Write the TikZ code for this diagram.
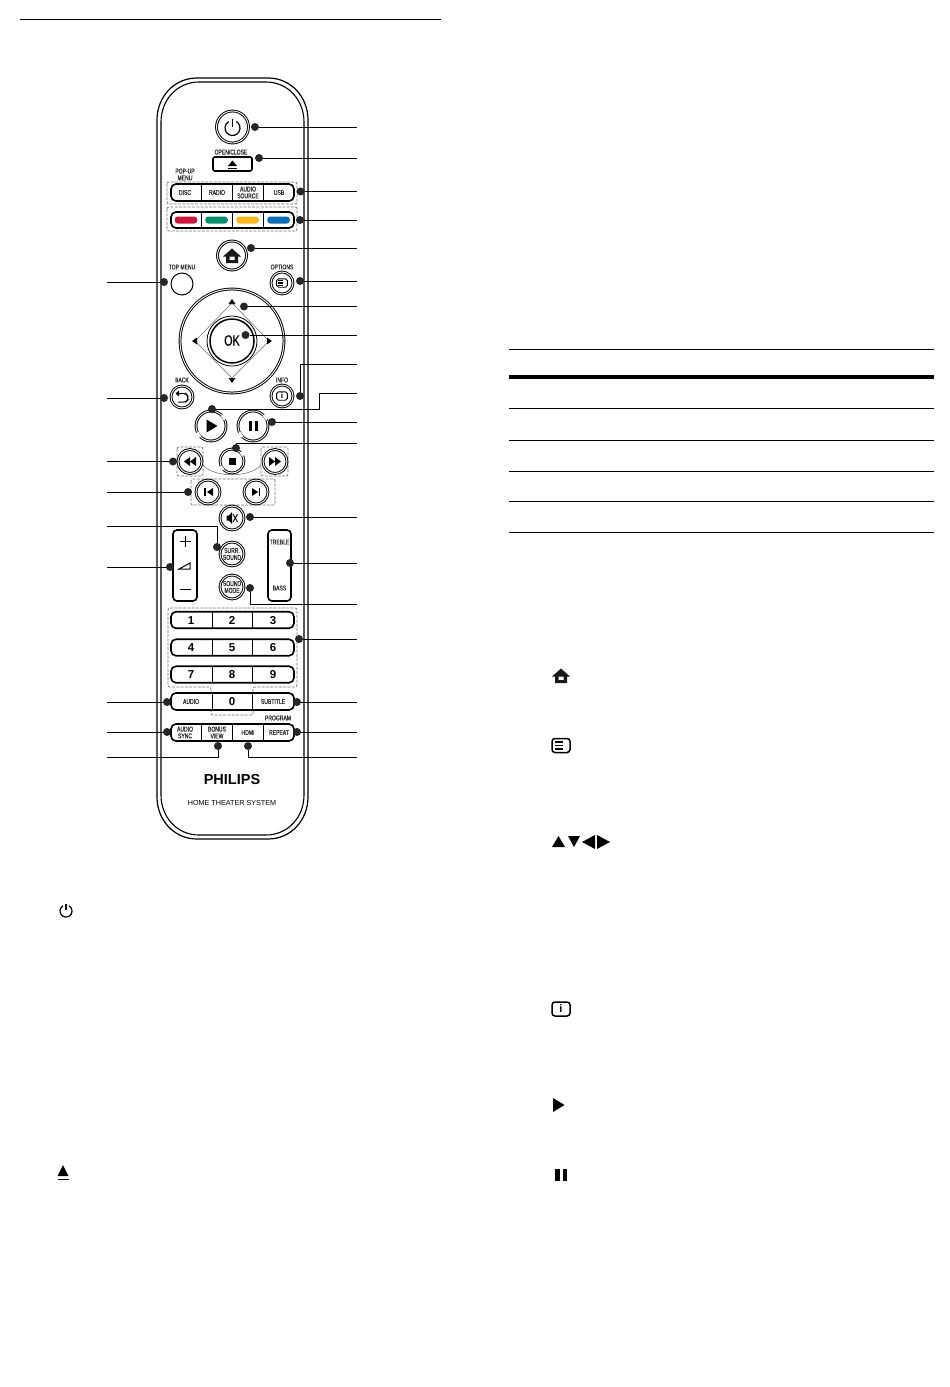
\documentclass[tikz,border=0pt]{standalone}
\usepackage{fontspec}
\setmainfont{Liberation Sans}
\newfontfamily\keyfont[FakeStretch=0.72, FakeBold=0.25]{Liberation Sans}
\definecolor{keyred}{HTML}{D2143C}
\definecolor{keygreen}{HTML}{00936E}
\definecolor{keyyellow}{HTML}{FDB813}
\definecolor{keyblue}{HTML}{0A6EBD}
\def\leftx{107}
\def\rightx{357}
\tikzset{
  dot/.style={circle, fill=black!85, inner sep=0, minimum size=8pt},
  lead/.style={black, line width=0.9pt},
  ringbtn/.style={circle, draw=black, fill=white, inner sep=0, line width=0.95pt, double=white, double distance=0.9pt},
  flatbtn/.style={circle, draw=black, fill=white, inner sep=0, line width=1pt},
  barbtn/.style={rectangle, draw=black, fill=white, inner sep=0, line width=1.6pt, rounded corners=5pt},
  group/.style={draw=black!55, line width=0.7pt, dashed, dash pattern=on 3pt off 1.3pt, rounded corners=2pt},
  keytxt/.style={inner sep=0, align=center, font=\keyfont\fontsize{7}{6.8}\selectfont, text=black!85},
  digit/.style={inner sep=0, text height=8pt, text depth=0pt, font=\bfseries\fontsize{11.5}{11.5}\selectfont},
  rule/.style={black, line width=0.6pt}
}
\newcommand{\drawhome}[2]{
  \fill[black!90, even odd rule, shift={(#1,#2)}] (-9,0.5) -- (0,-7.5) -- (9,0.5) -- (6,0.5) -- (6,7) -- (-6,7) -- (-6,0.5) -- cycle (-2.5,0.5) rectangle (2.5,4);
}
\newcommand{\drawmenu}[3]{
  \begin{scope}[shift={(#1,#2)}, scale=#3]
    \draw[line width=#3*1.5pt, rounded corners=#3*3pt] (-9,-7) rectangle (9,7);
    \foreach \ly in {-3.5,0,3.5} {
      \draw[line width=#3*1.7pt] (-6,\ly) -- (1.5,\ly);
    }
  \end{scope}
}
\newcommand{\drawinfo}[3]{
  \draw[line width=#3*1.5pt, rounded corners=#3*3pt, shift={(#1,#2)}, scale=#3] (-9,-7) rectangle (9,7);
}
\newcommand{\drawpower}[3]{
  \draw[line width=1.2pt, shift={(#1,#2)}, scale=#3] (0.5,-0.866) arc (-60:240:1);
  \draw[line width=1.2pt, shift={(#1,#2)}, scale=#3] (0,-1.25) -- (0,-0.2);
}
\newcommand{\ringgap}[3]{
  \draw[white, line width=3pt, shift={(#1,#2)}] (-45:#3) arc (-45:-25:#3);
  \draw[white, line width=3pt, shift={(#1,#2)}] (135:#3) arc (135:155:#3);
}
\begin{document}
\begin{tikzpicture}[x=1pt, y=-1pt]
  \useasboundingbox (0,0) rectangle (950,1387);
  \draw[black, line width=1pt] (20,19) -- (441,19);

  \draw[black, line width=1.2pt] (157,120) .. controls (157,97) and (174,78) .. (197,78) -- (268,78) .. controls (291,78) and (308,97) .. (308,120) -- (308,797) .. controls (308,820) and (291,839) .. (268,839) -- (197,839) .. controls (174,839) and (157,820) .. (157,797) -- cycle;
  \draw[black, line width=1.1pt] (161,122) .. controls (161,100) and (177,82) .. (199,82) -- (266,82) .. controls (288,82) and (304,100) .. (304,122) -- (304,795) .. controls (304,817) and (288,835) .. (266,835) -- (199,835) .. controls (177,835) and (161,817) .. (161,795) -- cycle;

  \node[ringbtn, minimum size=32pt] (power) at (232.5,127) {};
  \drawpower{232.5}{128}{7.5}
  \node[keytxt] (openlbl) at (231,152) {OPEN/CLOSE};
  \node[barbtn, minimum width=39pt, minimum height=14pt, rounded corners=2pt] (eject) at (232.5,164) {};
  \fill (228,166) -- (232.5,160.5) -- (237,166) -- cycle;
  \draw[line width=0.9pt] (228,168) -- (237,168);

  \node[keytxt] (popuplbl) at (185,174.5) {POP-UP\\MENU};
  \draw[group] (167,182) rectangle (297,204);
  \node[barbtn, minimum width=123pt, minimum height=17pt] (menurow) at (232.5,192.5) {};
  \draw[group] (167,207) rectangle (297,231);
  \node[barbtn, minimum width=123pt, minimum height=16pt] (colourrow) at (232.5,220) {};
  \foreach \dx in {201,232,263} {
    \draw[line width=0.8pt] (\dx,185) -- (\dx,200);
    \draw[line width=0.8pt] (\dx,213) -- (\dx,227);
  }
  \foreach \name/\px/\txt in {disc/185/DISC, radio/217/RADIO, source/248/AUDIO\\SOURCE, usb/279/USB} {
    \node[keytxt] (\name) at (\px,192.5) {\txt};
  }
  \foreach \name/\px/\col in {red/186/keyred, green/216.5/keygreen, yellow/247.5/keyyellow, blue/278.5/keyblue} {
    \node[fill=\col, rounded corners=3pt, inner sep=0, minimum width=22.5pt, minimum height=7pt] (\name) at (\px,220) {};
  }

  \node[ringbtn, minimum size=29pt] (home) at (232,255.5) {};
  \drawhome{232}{256}
  \node[keytxt] (optlbl) at (282,267) {OPTIONS};
  \node[ringbtn, minimum size=22pt] (options) at (282,283) {};
  \drawmenu{282}{283}{0.6}
  \node[keytxt] (toplbl) at (182,267) {TOP MENU};
  \node[flatbtn, minimum size=22pt] (topmenu) at (182,284) {};

  \node[ringbtn, minimum size=104pt] (navring) at (232,341) {};
  \draw[black!60, line width=0.5pt] (232,303) -- (269,341) -- (232,378) -- (195,341) -- cycle;
  \node[circle, draw=black, fill=white, inner sep=0, line width=0.8pt, minimum size=50pt] (ok) at (232,341) {};
  \node[circle, draw=black, fill=white, inner sep=0, line width=1.5pt, minimum size=44pt] (okinner) at (232,341) {};
  \node[inner sep=0, font=\keyfont\fontsize{15}{15}\selectfont] (oklbl) at (232,340.5) {OK};
  \fill (228.5,304) -- (232,299) -- (235.5,304) -- cycle;
  \fill (228.5,378) -- (232,383) -- (235.5,378) -- cycle;
  \fill (197,337.5) -- (192,341) -- (197,344.5) -- cycle;
  \fill (267,337.5) -- (272,341) -- (267,344.5) -- cycle;

  \node[keytxt] (infolbl) at (282,380) {INFO};
  \node[ringbtn, minimum size=22pt] (info) at (282,396) {};
  \drawinfo{282}{396}{0.6}
  \node[inner sep=0, font=\bfseries\fontsize{8}{8}\selectfont] (infoi) at (282,396) {i};
  \node[keytxt] (backlbl) at (182,380) {BACK};
  \node[ringbtn, minimum size=22pt] (back) at (182,397) {};
  \draw[line width=1pt, rounded corners=2pt] (179,393.5) -- (186,393.5) -- (188,396) -- (188,400) -- (186,402) -- (178,402);
  \fill (179,390.5) -- (179,396.5) -- (175.5,393.5) -- cycle;

  \node[ringbtn, minimum size=30pt] (play) at (211,426) {};
  \ringgap{211}{426}{15.5}
  \fill (206.5,419.5) -- (217.5,426) -- (206.5,432.5) -- cycle;
  \node[ringbtn, minimum size=30pt] (pause) at (253,426) {};
  \ringgap{253}{426}{15.5}
  \fill (249,421) rectangle (252,431);
  \fill (254.5,421) rectangle (257.5,431);

  \draw[group] (177,447) rectangle (203,476);
  \draw[group] (261,447) rectangle (288,476);
  \draw[black!60, line width=0.5pt] (203,465) .. controls (214,478) and (250,478) .. (261,465);
  \draw[group] (191,479) rectangle (275,505);
  \node[ringbtn, minimum size=24pt] (rewind) at (190,461.5) {};
  \fill (190,457) -- (184,461.5) -- (190,466) -- cycle;
  \fill (196,457) -- (190,461.5) -- (196,466) -- cycle;
  \node[ringbtn, minimum size=24pt] (stop) at (232,461) {};
  \ringgap{232}{461}{12.5}
  \fill (228.5,457.5) rectangle (235.5,464.5);
  \node[ringbtn, minimum size=24pt] (forward) at (275,461.5) {};
  \fill (269,457) -- (275,461.5) -- (269,466) -- cycle;
  \fill (275,457) -- (281,461.5) -- (275,466) -- cycle;
  \node[ringbtn, minimum size=24pt] (prev) at (208,492) {};
  \fill (213,488) -- (207,492) -- (213,496) -- cycle;
  \draw[line width=1.2pt] (205,488) -- (205,496);
  \node[ringbtn, minimum size=24pt] (next) at (256,492) {};
  \fill (252,488) -- (258,492) -- (252,496) -- cycle;
  \draw[line width=1.2pt] (259.5,488) -- (259.5,496);

  \node[ringbtn, minimum size=24pt] (mute) at (232,518) {};
  \fill (226.5,515.5) -- (229,515.5) -- (232,512) -- (232,524) -- (229,520.5) -- (226.5,520.5) -- cycle;
  \draw[line width=0.9pt] (233,514) -- (237.5,522) (237.5,514) -- (233,522);

  \node[ringbtn, minimum size=24pt] (surr) at (232,554) {};
  \node[keytxt] (surrlbl) at (232,554) {SURR.\\SOUND};
  \node[ringbtn, minimum size=24pt] (soundmode) at (232,587) {};
  \node[keytxt] (modelbl) at (232,587) {SOUND\\MODE};

  \node[barbtn, minimum width=24pt, minimum height=71pt, rounded corners=4pt] (volume) at (185,565.5) {};
  \draw[line width=1pt] (180,541) -- (191,541) (185.5,535.5) -- (185.5,546.5);
  \draw[line width=1pt] (179,569) -- (190,563) -- (190,569) -- cycle;
  \draw[line width=1pt] (180,589) -- (191,589);
  \node[barbtn, minimum width=23pt, minimum height=71pt, rounded corners=4pt] (treble) at (279.5,565.5) {};
  \node[keytxt] (treblelbl) at (279.5,542) {TREBLE};
  \node[keytxt] (basslbl) at (279.5,588) {BASS};

  \draw[group] (168,608) -- (297,608) -- (297,687) -- (253,687) -- (253,715) -- (211,715) -- (211,687) -- (168,687) -- cycle;
  \foreach \row/\py in {a/620, b/647.5, c/674.5} {
    \node[barbtn, minimum width=123pt, minimum height=16.5pt] (row\row) at (232.5,\py) {};
    \draw[line width=0.8pt] (212,\py-8) -- (212,\py+8);
    \draw[line width=0.8pt] (252,\py-8) -- (252,\py+8);
  }
  \foreach \name/\px/\py/\txt in {n1/191/620/1, n2/232/620/2, n3/273/620/3, n4/191/647.5/4, n5/232/647.5/5, n6/273/647.5/6, n7/191/674.5/7, n8/232/674.5/8, n9/273/674.5/9} {
    \node[digit] (\name) at (\px,\py) {\txt};
  }
  \node[barbtn, minimum width=123pt, minimum height=17pt] (rowd) at (232.5,701.5) {};
  \node[digit] (zero) at (232,701.5) {0};
  \draw[line width=0.8pt] (212,693) -- (212,710);
  \draw[line width=0.8pt] (252,693) -- (252,710);
  \node[keytxt] (audio) at (191,701.5) {AUDIO};
  \node[keytxt] (subtitle) at (273,701.5) {SUBTITLE};

  \node[keytxt] (programlbl) at (278,718) {PROGRAM};
  \node[barbtn, minimum width=123pt, minimum height=17pt] (rowe) at (232.5,732.5) {};
  \foreach \dx in {201,232,263} {
    \draw[line width=0.8pt] (\dx,725) -- (\dx,740);
  }
  \foreach \name/\px/\txt in {sync/185/AUDIO\\SYNC, bonus/217/BONUS\\VIEW, hdmi/248/HDMI, repeatkey/279/REPEAT} {
    \node[keytxt] (\name) at (\px,732.5) {\txt};
  }
  \node[inner sep=0, font=\bfseries\fontsize{14.5}{14.5}\selectfont] (brand) at (232,779) {PHILIPS};
  \node[inner sep=0, font=\fontsize{7.2}{7.2}\selectfont] (model) at (232,803) {HOME THEATER SYSTEM};

  \foreach \name/\dx/\dy in {r1/255/127, r2/259/158, r3/300.5/191.5, r4/300/220, r5/251/248, r6/300/281, r7/244/306.5, r8/245.5/335, r9/272/422, r10/250/517, r11/290/563, r12/299/639, r13/297/702, r14/297/732} {
    \node[dot] (\name) at (\dx,\dy) {};
    \coordinate (\name e) at (\rightx,\dy);
    \draw[lead] (\name) -- (\name e);
  }
  \foreach \name/\dx/\dy in {l1/164/282, l2/164/398, l3/173/461.5, l4/188/492, l5/170/567, l6/167/702, l7/167/732} {
    \node[dot] (\name) at (\dx,\dy) {};
    \coordinate (\name e) at (\leftx,\dy);
    \draw[lead] (\name) -- (\name e);
  }
  \foreach \name/\dx/\dy/\ey/\ex in {b1/300/396/364/\rightx, b2/236/448/443/\rightx, b3/217/547/526/\leftx, b4/250/588/604/\rightx, b5/218/746/757/\leftx, b6/248/746/757/\rightx} {
    \node[dot] (\name) at (\dx,\dy) {};
    \coordinate (\name e) at (\ex,\ey);
    \draw[lead] (\name) |- (\name e);
  }
  \node[dot] (b7) at (212,409) {};
  \coordinate (b7m) at (319,393);
  \coordinate (b7e) at (\rightx,393);
  \draw[lead] (b7) -| (b7m) -- (b7e);

  \foreach \ry/\rw in {349/0.7, 377/3.6, 408/0.7, 440/0.7, 471/0.7, 501/0.7, 532/0.7} {
    \draw[rule, line width=\rw pt] (509,\ry) -- (934,\ry);
  }

  \drawpower{66}{911}{6}
  \fill (57.5,1176) -- (63,1165) -- (68.5,1176) -- cycle;
  \draw[line width=1pt] (57.5,1179) -- (68.5,1179);
  \drawhome{561}{676}
  \drawmenu{561}{745.5}{1}
  \fill (552,847) -- (558.5,836) -- (565,847) -- cycle;
  \fill (568,836) -- (574,847) -- (580,836) -- cycle;
  \fill (595,835) -- (582,842) -- (595,849) -- cycle;
  \fill (597,835) -- (610,842) -- (597,849) -- cycle;
  \drawinfo{561}{1009}{1}
  \node[inner sep=0, font=\bfseries\fontsize{11}{11}\selectfont] (infopage) at (561,1009) {i};
  \fill (553,1098) -- (564.5,1105) -- (553,1112) -- cycle;
  \fill (555,1169) rectangle (559.5,1181);
  \fill (562.5,1169) rectangle (567,1181);
\end{tikzpicture}
\end{document}
